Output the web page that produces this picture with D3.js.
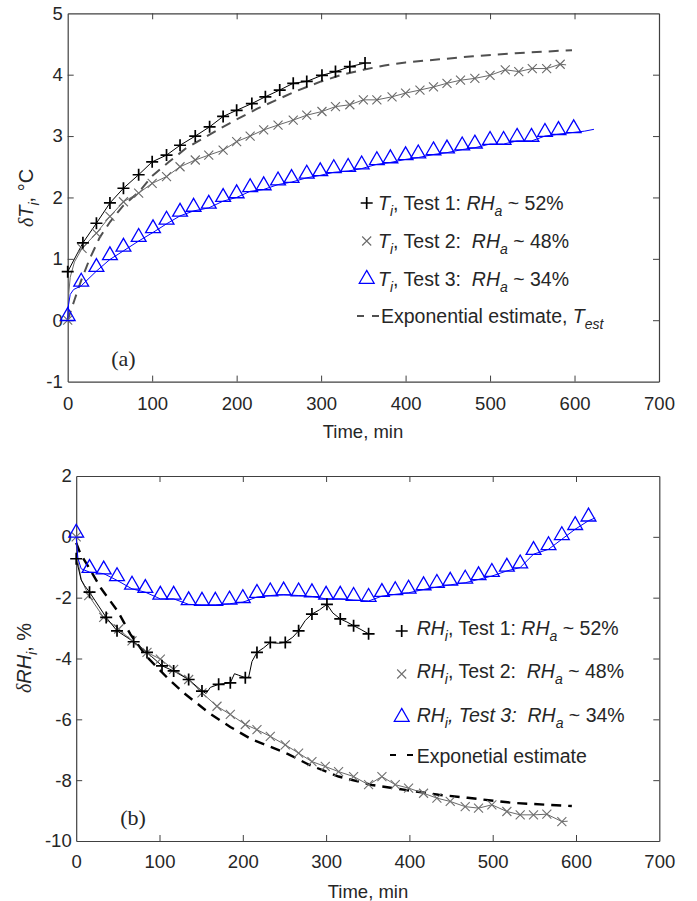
<!DOCTYPE html>
<html>
<head>
<meta charset="utf-8">
<script src="https://cdn.jsdelivr.net/npm/d3@7"></script>
<style>
  body { margin: 0; background: #fff; }
  svg text { font-family: "Liberation Sans", Arial, sans-serif; fill: #262626; }
</style>
</head>
<body>
<script>
// ---------- panel (a): temperature ----------
const timeTicks = [0, 100, 200, 300, 400, 500, 600, 700];
const tempTicks = [-1, 0, 1, 2, 3, 4, 5];

const tempTest1Time = [0, 18, 34, 50, 66, 84, 100, 117, 133, 151, 168, 184, 200, 218, 234, 251, 267, 283, 301, 317, 334, 352];
const tempTest1Val  = [0.79, 1.26, 1.58, 1.91, 2.15, 2.37, 2.58, 2.69, 2.85, 3.0, 3.15, 3.32, 3.42, 3.53, 3.64, 3.75, 3.86, 3.89, 3.99, 4.05, 4.13, 4.19];

const tempTest2Time = [0, 17, 34, 50, 66, 84, 100, 117, 133, 151, 167, 184, 200, 216, 232, 249, 267, 283, 301, 317, 334, 350, 366, 384, 400, 417, 433, 449, 465, 482, 500, 518, 534, 550, 567, 583];
const tempTest2Val  = [0, 1.17, 1.42, 1.69, 1.93, 2.07, 2.23, 2.34, 2.50, 2.61, 2.69, 2.77, 2.91, 3.0, 3.10, 3.18, 3.26, 3.34, 3.40, 3.48, 3.51, 3.59, 3.59, 3.64, 3.70, 3.75, 3.80, 3.86, 3.91, 3.94, 3.99, 4.08, 4.05, 4.10, 4.10, 4.17];
const tempTest2ExtraTime = [1, 3, 8, 590];
const tempTest2ExtraVal  = [0.4, 0.7, 0.95, 4.16];

const tempTest3Time = [0, 16, 34, 50, 66, 84, 101, 117, 133, 149, 167, 184, 200, 216, 232, 249, 265, 283, 299, 315, 332, 348, 366, 382, 400, 415, 433, 449, 467, 482, 500, 516, 532, 549, 565, 581, 599];
const tempTest3Val  = [0, 0.56, 0.80, 0.99, 1.13, 1.29, 1.43, 1.57, 1.70, 1.78, 1.83, 1.94, 2.00, 2.10, 2.13, 2.21, 2.25, 2.32, 2.36, 2.41, 2.43, 2.47, 2.54, 2.57, 2.62, 2.65, 2.70, 2.73, 2.78, 2.81, 2.87, 2.87, 2.92, 2.92, 3.00, 3.03, 3.06];
const tempTest3ExtraTime = [1, 3, 7, 612, 623];
const tempTest3ExtraVal  = [0.25, 0.42, 0.5, 3.08, 3.11];

const tempEstTime = [0, 8, 16, 26, 38, 50, 66, 85, 100, 120, 140, 160, 180, 200, 225, 270, 300, 325, 350, 375, 400, 440, 480, 530, 597];
const tempEstVal  = [0, 0.33, 0.65, 1.0, 1.35, 1.6, 1.87, 2.1, 2.35, 2.58, 2.8, 2.96, 3.12, 3.27, 3.45, 3.73, 3.89, 4.0, 4.08, 4.15, 4.2, 4.25, 4.3, 4.35, 4.4];

// ---------- panel (b): relative humidity ----------
const rhTicks = [-10, -8, -6, -4, -2, 0, 2];

const rhTest1Time = [0, 16, 36, 49, 69, 85, 103, 117, 135, 151, 171, 185, 203, 217, 233, 251, 267, 283, 301, 317, 333, 351];
const rhTest1Val  = [-0.72, -1.82, -2.65, -3.09, -3.45, -3.80, -4.24, -4.41, -4.69, -5.07, -4.85, -4.80, -4.63, -3.80, -3.47, -3.47, -3.09, -2.54, -2.22, -2.70, -2.92, -3.19];
const rhTest1ExtraTime = [6, 10, 156, 161, 190, 195, 207, 211, 225, 243, 260, 275, 292, 308, 325, 342];
const rhTest1ExtraVal  = [-1.42, -1.6, -5.15, -4.95, -4.5, -4.55, -4.62, -4.1, -3.65, -3.5, -3.3, -2.75, -2.4, -2.5, -2.8, -3.05];

const rhTest2Time = [0, 15, 33, 51, 67, 85, 101, 117, 135, 151, 169, 185, 203, 217, 233, 251, 267, 283, 299, 315, 333, 351, 367, 383, 399, 417, 433, 449, 467, 483, 499, 517, 533, 549, 565, 583];
const rhTest2Val  = [0, -1.93, -2.65, -3.03, -3.42, -3.80, -4.02, -4.36, -4.69, -5.13, -5.57, -5.84, -6.17, -6.34, -6.56, -6.84, -7.11, -7.39, -7.55, -7.72, -7.88, -8.15, -7.88, -8.15, -8.26, -8.43, -8.59, -8.70, -8.87, -8.92, -8.81, -9.03, -9.14, -9.14, -9.12, -9.36];
const rhTest2ExtraTime = [2, 6, 590];
const rhTest2ExtraVal  = [-0.8, -1.4, -9.35];

const rhTest3Time = [0, 16, 33, 49, 67, 83, 101, 117, 135, 151, 167, 184, 200, 217, 233, 249, 267, 283, 300, 317, 333, 351, 367, 383, 399, 417, 433, 449, 467, 483, 499, 517, 533, 549, 567, 583, 599, 615];
const rhTest3Val  = [0, -1.16, -1.21, -1.43, -1.71, -1.82, -2.04, -2.04, -2.22, -2.24, -2.24, -2.2, -2.15, -1.98, -1.93, -1.9, -1.93, -1.96, -2.04, -2.04, -2.08, -2.11, -1.95, -1.89, -1.84, -1.73, -1.65, -1.58, -1.51, -1.40, -1.29, -1.12, -1.01, -0.57, -0.41, -0.08, 0.25, 0.53];
const rhTest3ExtraTime = [2, 6, 623];
const rhTest3ExtraVal  = [-0.7, -1.05, 0.62];

const rhEstTime = [0, 5, 15, 30, 50, 65, 85, 110, 130, 160, 185, 210, 235, 255, 280, 315, 355, 395, 435, 470, 525, 595];
const rhEstVal  = [-0.2, -0.55, -1.0, -1.7, -2.45, -3.2, -3.95, -4.65, -5.15, -5.8, -6.25, -6.65, -6.92, -7.15, -7.5, -7.88, -8.16, -8.32, -8.48, -8.58, -8.75, -8.85];

const W = 697, H = 901;
const FS = 18.5;
const axisColor = '#404040';

let svg = d3.select('body').append('svg').attr('width', W).attr('height', H);

const pts = (ts, vs) => ts.map((t, i) => ({ t: t, v: vs[i] }));
const withExtra = (ts, vs, et, ev) => pts(ts, vs).concat(pts(et || [], ev || [])).sort((a, b) => a.t - b.t);

// marker shapes
const plusPath = 'M-6,0H6M0,-6V6';
const crossPath = 'M-4.5,-4.5L4.5,4.5M-4.5,4.5L4.5,-4.5';
const triPath = d3.symbol(d3.symbolTriangle, 95)();

function drawAxes(x, y, yTicks, padX, padY) {
  let [y0, y1] = y.range();
  let [x0, x1] = x.range();
  let bottom = svg.append('g').attr('transform', `translate(0,${y0})`)
    .call(d3.axisBottom(x).tickValues(timeTicks).tickFormat(d => String(d))
      .tickSizeInner(-6).tickSizeOuter(0).tickPadding(padX));
  let top = svg.append('g').attr('transform', `translate(0,${y1})`)
    .call(d3.axisTop(x).tickValues(timeTicks.slice(1, -1)).tickFormat('')
      .tickSizeInner(-6).tickSizeOuter(0));
  let left = svg.append('g').attr('transform', `translate(${x0},0)`)
    .call(d3.axisLeft(y).tickValues(yTicks).tickFormat(d => String(d))
      .tickSizeInner(-6).tickSizeOuter(0).tickPadding(padY));
  let right = svg.append('g').attr('transform', `translate(${x1},0)`)
    .call(d3.axisRight(y).tickValues(yTicks.slice(1, -1)).tickFormat('')
      .tickSizeInner(-6).tickSizeOuter(0));
  [bottom, top, left, right].forEach(a => {
    a.select('.domain').attr('stroke', axisColor).attr('stroke-width', 1.2);
    a.selectAll('.tick line').attr('stroke', axisColor).attr('stroke-width', 1);
    a.selectAll('.tick text').attr('font-size', FS).attr('font-family', null).attr('fill', '#262626');
  });
  bottom.selectAll('.tick').filter(d => d === 0 || d === 700).select('line').remove();
  left.selectAll('.tick').filter((d, i) => i === 0 || i === yTicks.length - 1).select('line').remove();
}

function drawLine(data, x, y, color, width, dash) {
  svg.append('path')
    .datum(data)
    .attr('fill', 'none')
    .attr('stroke', color)
    .attr('stroke-width', width)
    .attr('stroke-dasharray', dash || null)
    .attr('d', d3.line().x(d => x(d.t)).y(d => y(d.v)));
}

function drawMarkers(data, x, y, path, color, width, shift) {
  svg.append('g').selectAll('path')
    .data(data)
    .enter()
    .append('path')
    .attr('d', path)
    .attr('transform', d => `translate(${x(d.t)},${y(d.v) - (shift || 0)})`)
    .attr('fill', 'none')
    .attr('stroke', color)
    .attr('stroke-width', width);
}

// legend rows: pieces of [text, italic, sub]
function legendText(xPos, yPos, pieces) {
  let t = svg.append('text').attr('x', xPos).attr('y', yPos)
    .attr('font-size', 19.5).style('white-space', 'pre');
  let sub = false;
  pieces.forEach(p => {
    let s = t.append('tspan').text(p[0]);
    if (p[1]) s.attr('font-style', 'italic');
    if (p[2] && !sub) { s.attr('dy', 6).attr('font-size', 14); sub = true; }
    else if (!p[2] && sub) { s.attr('dy', -6); sub = false; }
    else if (p[2]) s.attr('font-size', 14);
  });
  return t;
}

// ======== panel (a) ========
let xA = d3.scaleLinear().domain([0, 700]).range([67.7, 659]);
let yA = d3.scaleLinear().domain([-1, 5]).range([381.6, 13.3]);

drawAxes(xA, yA, tempTicks, 15, 5);

drawLine(pts(tempEstTime, tempEstVal), xA, yA, '#505050', 2, '10,7');
drawLine(withExtra(tempTest2Time, tempTest2Val, tempTest2ExtraTime, tempTest2ExtraVal), xA, yA, '#6a6a6a', 1);
drawLine(withExtra(tempTest3Time, tempTest3Val, tempTest3ExtraTime, tempTest3ExtraVal), xA, yA, '#0000ff', 1);
drawLine(pts(tempTest1Time, tempTest1Val), xA, yA, '#000', 1);
drawMarkers(pts(tempTest2Time, tempTest2Val), xA, yA, crossPath, '#6a6a6a', 1.1);
drawMarkers(pts(tempTest3Time, tempTest3Val), xA, yA, triPath, '#0000ff', 1.3, 4);
drawMarkers(pts(tempTest1Time, tempTest1Val), xA, yA, plusPath, '#000', 1.7);

// legend (a)
svg.append('path').attr('d', plusPath).attr('transform', 'translate(366.7,203)').attr('stroke', '#000').attr('stroke-width', 1.7);
svg.append('path').attr('d', crossPath).attr('transform', 'translate(366.7,241)').attr('stroke', '#6a6a6a').attr('stroke-width', 1.1);
svg.append('path').attr('d', triPath).attr('transform', 'translate(366.7,279)').attr('fill', 'none').attr('stroke', '#0000ff').attr('stroke-width', 1.3);
svg.append('line').attr('x1', 357).attr('x2', 380).attr('y1', 316).attr('y2', 316)
  .attr('stroke', '#505050').attr('stroke-width', 2).attr('stroke-dasharray', '7,8');
legendText(378, 210, [['T', 1], ['i', 1, 1], [', Test 1: '], ['RH', 1], ['a', 1, 1], [' ~ 52%']]);
legendText(378, 248, [['T', 1], ['i', 1, 1], [', Test 2:  '], ['RH', 1], ['a', 1, 1], [' ~ 48%']]);
legendText(378, 286, [['T', 1], ['i', 1, 1], [', Test 3:  '], ['RH', 1], ['a', 1, 1], [' ~ 34%']]);
legendText(381, 323, [['Exponential estimate, '], ['T', 1], ['est', 1, 1]]);

svg.append('text').attr('x', 123.5).attr('y', 366).attr('text-anchor', 'middle')
  .attr('font-size', 22).style('font-family', '"Liberation Serif", "Times New Roman", serif').text('(a)');

svg.append('text').attr('x', 363).attr('y', 438).attr('text-anchor', 'middle')
  .attr('font-size', FS).text('Time, min');

let yLabA = svg.append('text').attr('transform', 'translate(33,198) rotate(-90)')
  .attr('text-anchor', 'middle').attr('font-size', 20);
yLabA.append('tspan').text('δ').attr('font-style', 'italic').style('font-family', '"Liberation Serif", serif');
yLabA.append('tspan').text('T').attr('font-style', 'italic');
yLabA.append('tspan').text('i').attr('font-style', 'italic').attr('font-size', 14).attr('dy', 6);
yLabA.append('tspan').text(', °C').attr('dy', -6);

// ======== panel (b) ========
let xB = d3.scaleLinear().domain([0, 700]).range([76.2, 659.3]);
let yB = d3.scaleLinear().domain([-10, 2]).range([841, 476]);

drawAxes(xB, yB, rhTicks, 14, 4.5);

drawLine(pts(rhEstTime, rhEstVal), xB, yB, '#000', 2.4, '10,7');
drawLine(withExtra(rhTest2Time, rhTest2Val, rhTest2ExtraTime, rhTest2ExtraVal), xB, yB, '#6a6a6a', 1);
drawLine(withExtra(rhTest3Time, rhTest3Val, rhTest3ExtraTime, rhTest3ExtraVal), xB, yB, '#0000ff', 1);
drawLine(withExtra(rhTest1Time, rhTest1Val, rhTest1ExtraTime, rhTest1ExtraVal), xB, yB, '#000', 1);
drawMarkers(pts(rhTest2Time, rhTest2Val), xB, yB, crossPath, '#707070', 1.1);
drawMarkers(pts(rhTest3Time, rhTest3Val), xB, yB, triPath, '#0000ff', 1.3, 4);
drawMarkers(pts(rhTest1Time, rhTest1Val), xB, yB, plusPath, '#000', 1.7);

// legend (b)
svg.append('path').attr('d', plusPath).attr('transform', 'translate(401.7,631)').attr('stroke', '#000').attr('stroke-width', 1.7);
svg.append('path').attr('d', crossPath).attr('transform', 'translate(401.7,674)').attr('stroke', '#707070').attr('stroke-width', 1.1);
svg.append('path').attr('d', triPath).attr('transform', 'translate(401.7,717)').attr('fill', 'none').attr('stroke', '#0000ff').attr('stroke-width', 1.3);
svg.append('line').attr('x1', 390).attr('x2', 414).attr('y1', 755).attr('y2', 755)
  .attr('stroke', '#000').attr('stroke-width', 2).attr('stroke-dasharray', '6,11');
legendText(416.7, 635, [['RH', 1], ['i', 1, 1], [', Test 1: '], ['RH', 1], ['a', 1, 1], [' ~ 52%']]);
legendText(416.7, 678, [['RH', 1], ['i', 1, 1], [', Test 2:  '], ['RH', 1], ['a', 1, 1], [' ~ 48%']]);
legendText(416.7, 721.5, [['RH', 1], ['i', 1, 1], [', Test 3:  ', 1], ['RH', 1], ['a', 1, 1], [' ~ 34%']]);
legendText(416.7, 763, [['Exponetial estimate']]);

svg.append('text').attr('x', 133).attr('y', 825).attr('text-anchor', 'middle')
  .attr('font-size', 22).style('font-family', '"Liberation Serif", "Times New Roman", serif').text('(b)');

svg.append('text').attr('x', 368).attr('y', 898).attr('text-anchor', 'middle')
  .attr('font-size', FS).text('Time, min');

let yLabB = svg.append('text').attr('transform', 'translate(31,658) rotate(-90)')
  .attr('text-anchor', 'middle').attr('font-size', 20);
yLabB.append('tspan').text('δ').attr('font-style', 'italic').style('font-family', '"Liberation Serif", serif');
yLabB.append('tspan').text('RH').attr('font-style', 'italic');
yLabB.append('tspan').text('i').attr('font-style', 'italic').attr('font-size', 14).attr('dy', 6);
yLabB.append('tspan').text(', %').attr('dy', -6);
</script>
</body>
</html>
